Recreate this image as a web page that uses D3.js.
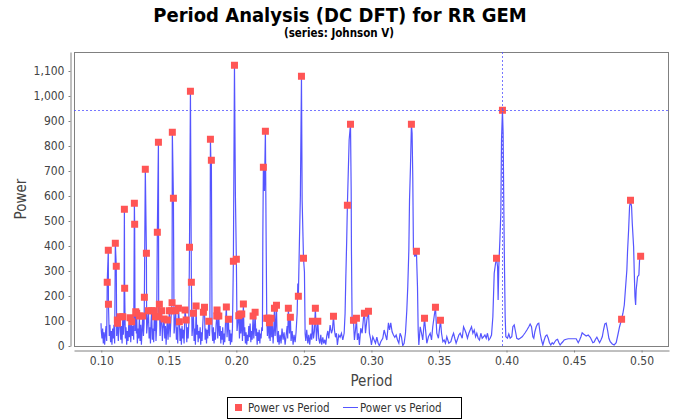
<!DOCTYPE html>
<html>
<head>
<meta charset="utf-8" />
<script src="https://d3js.org/d3.v7.min.js"></script>
<title>Period Analysis</title>
<style>
    body { margin: 0; background: #fff; }
    svg { display: block; }
    .tick text { font-family: "DejaVu Sans Condensed", "DejaVu Sans", sans-serif; font-stretch: condensed; font-size: 12px; fill: #444; }
    .axis path, .axis line { stroke: #808080; }
</style>
</head>
<body>
<script>
    var titleText = "Period Analysis (DC DFT) for RR GEM",
        subtitleText = "(series: Johnson V)",
        seriesName = "Power vs Period";

    var xTicks = [0.10, 0.15, 0.20, 0.25, 0.30, 0.35, 0.40, 0.45, 0.50];
    var yTicks = [0, 100, 200, 300, 400, 500, 600, 700, 800, 900, 1000, 1100];

    // crosshair sits on the selected peak
    var crossPeriod = 0.3970,
        crossPower = 943;

    // [period, power] - the full DFT line
    var spectrum = [
        [0.0998,91],[0.1000,60],[0.1005,30],[0.1010,70],[0.1015,10],[0.1020,55],[0.1025,5],[0.1030,45],[0.1035,80],[0.1040,20],
        [0.1044,255],[0.1052,383],[0.1053,167],
        [0.1059,40],[0.1064,85],[0.1069,15],[0.1074,60],[0.1079,5],[0.1084,70],[0.1089,30],[0.1094,85],[0.1099,10],
        [0.1104,411],[0.1111,319],[0.1114,40],[0.1119,104],[0.1121,91],[0.1126,20],[0.1131,70],[0.1139,117],[0.1144,25],[0.1149,80],[0.1154,10],[0.1159,117],[0.1163,45],[0.1168,90],
        [0.1171,547],[0.1173,231],
        [0.1178,30],[0.1183,75],[0.1188,5],[0.1193,60],[0.1198,20],[0.1203,85],[0.1208,35],[0.1213,113],[0.1218,15],[0.1225,97],[0.1230,40],[0.1235,80],[0.1240,25],
        [0.1245,571],[0.1247,487],
        [0.1250,60],[0.1255,137],[0.1260,50],[0.1262,131],[0.1267,10],[0.1272,70],[0.1277,30],[0.1282,120],[0.1287,20],[0.1292,85],[0.1297,5],[0.1302,65],[0.1307,120],[0.1312,40],[0.1317,90],
        [0.1319,195],[0.1326,707],[0.1334,371],
        [0.1336,50],[0.1341,85],[0.1349,141],[0.1354,30],[0.1359,75],[0.1364,10],[0.1368,90],[0.1373,141],[0.1378,25],[0.1383,70],[0.1388,15],[0.1393,141],[0.1398,60],[0.1401,117],[0.1405,20],[0.1410,80],
        [0.1415,455],[0.1423,815],[0.1425,117],[0.1430,167],
        [0.1435,40],[0.1440,85],[0.1447,141],[0.1452,20],[0.1457,70],[0.1465,108],[0.1470,30],[0.1475,80],[0.1480,5],[0.1484,60],[0.1489,104],[0.1494,25],[0.1499,75],[0.1504,141],[0.1509,35],[0.1514,85],
        [0.1519,141],[0.1524,173],[0.1526,855],[0.1534,591],
        [0.1539,50],[0.1544,85],[0.1551,141],[0.1556,25],[0.1561,75],[0.1566,10],[0.1571,151],[0.1578,97],[0.1583,20],[0.1588,70],[0.1593,5],[0.1598,80],[0.1603,30],[0.1608,65],[0.1613,10],[0.1620,144],[0.1628,104],[0.1633,15],[0.1638,75],[0.1643,30],[0.1648,90],
        [0.1653,395],[0.1660,1019],[0.1667,255],
        [0.1672,40],[0.1677,85],[0.1682,131],[0.1687,20],[0.1692,70],[0.1697,5],[0.1702,160],[0.1707,45],[0.1712,85],[0.1717,15],[0.1722,60],[0.1727,30],[0.1732,75],[0.1736,5],[0.1741,55],[0.1746,20],[0.1751,80],[0.1756,135],[0.1764,155],[0.1769,25],[0.1774,70],[0.1779,10],[0.1783,65],[0.1788,30],[0.1796,99],[0.1801,40],[0.1804,90],
        [0.1808,827],[0.1813,700],[0.1815,743],
        [0.1820,60],[0.1825,20],[0.1830,75],[0.1835,10],[0.1840,55],[0.1845,25],[0.1850,85],[0.1855,120],[0.1857,144],[0.1862,30],[0.1870,120],[0.1875,40],[0.1880,80],[0.1885,10],[0.1889,60],[0.1894,25],[0.1899,75],[0.1904,5],[0.1909,50],[0.1914,15],[0.1919,85],[0.1926,156],[0.1931,35],[0.1936,80],[0.1941,107],[0.1946,20],[0.1951,65],[0.1956,5],[0.1961,50],[0.1966,15],[0.1971,70],
        [0.1978,339],[0.1986,1123],[0.1993,600],[0.2000,347],
        [0.2005,60],[0.2010,90],[0.2018,121],[0.2023,30],[0.2028,127],[0.2033,50],[0.2040,128],[0.2045,20],[0.2052,168],[0.2057,40],[0.2062,75],[0.2067,10],[0.2072,55],[0.2077,5],[0.2082,45],[0.2087,20],[0.2092,80],[0.2097,35],[0.2102,90],[0.2107,15],[0.2112,60],[0.2117,25],[0.2124,120],[0.2129,30],[0.2134,70],[0.2139,135],[0.2144,40],[0.2149,70],[0.2154,5],[0.2159,55],[0.2164,20],[0.2169,65],[0.2174,10],[0.2178,50],[0.2183,30],[0.2188,75],[0.2193,60],
        [0.2196,437],[0.2200,715],[0.2208,620],[0.2215,859],[0.2220,457],[0.2225,111],
        [0.2230,40],[0.2237,111],[0.2242,30],[0.2245,93],[0.2250,20],[0.2257,111],[0.2262,35],[0.2267,80],[0.2272,10],[0.2277,60],[0.2282,151],[0.2287,40],[0.2292,90],[0.2297,163],[0.2301,50],[0.2306,15],[0.2311,60],[0.2316,5],[0.2324,45],[0.2331,10],[0.2338,70],[0.2346,25],[0.2353,55],[0.2361,5],[0.2368,40],[0.2376,80],[0.2380,30],[0.2385,151],[0.2393,50],[0.2400,115],[0.2405,20],[0.2413,60],[0.2420,5],[0.2427,45],[0.2435,15],[0.2442,55],[0.2450,130],[0.2455,250],
        [0.2459,199],[0.2467,420],[0.2474,600],[0.2482,1079],[0.2487,584],[0.2497,351],[0.2504,297],
        [0.2509,50],[0.2514,20],[0.2521,65],[0.2529,10],[0.2536,45],[0.2543,5],[0.2551,50],[0.2558,25],[0.2563,99],[0.2571,30],[0.2578,60],[0.2585,151],[0.2593,20],[0.2598,60],[0.2603,99],[0.2610,30],[0.2618,10],[0.2625,45],[0.2632,5],[0.2640,35],[0.2647,10],[0.2655,25],[0.2662,5],[0.2669,40],[0.2677,60],[0.2684,30],
        [0.2694,84],[0.2704,51],[0.2711,64],[0.2719,119],[0.2726,64],[0.2734,35],[0.2741,51],[0.2748,4],[0.2758,44],[0.2768,35],[0.2778,51],[0.2788,24],[0.2798,51],[0.2805,131],[0.2810,264],[0.2817,424],
        [0.2822,563],[0.2835,824],[0.2845,887],[0.2850,624],[0.2852,384],[0.2857,91],
        [0.2867,103],[0.2874,24],[0.2882,64],[0.2889,111],[0.2896,24],[0.2904,51],[0.2911,4],[0.2921,71],[0.2931,51],[0.2941,111],[0.2948,131],[0.2956,51],[0.2966,104],[0.2978,139],[0.2985,51],[0.2993,31],[0.3000,4],[0.3010,37],[0.3020,24],[0.3030,11],[0.3040,35],[0.3050,11],[0.3059,1],[0.3069,17],[0.3084,31],[0.3094,64],[0.3104,44],[0.3114,24],[0.3126,93],[0.3134,64],[0.3143,93],[0.3153,57],[0.3163,44],[0.3173,35],[0.3183,44],[0.3193,24],[0.3203,11],[0.3212,51],[0.3222,37],[0.3232,1],[0.3242,11],[0.3252,51],
        [0.3262,144],[0.3269,237],[0.3277,384],[0.3282,584],[0.3289,717],[0.3296,887],[0.3301,851],[0.3306,677],[0.3311,384],[0.3321,357],[0.3333,379],[0.3341,237],[0.3346,64],
        [0.3351,4],[0.3361,77],[0.3371,51],[0.3380,24],[0.3393,111],[0.3403,51],[0.3410,11],[0.3422,37],[0.3435,51],[0.3445,24],[0.3454,77],[0.3464,117],[0.3474,155],[0.3484,51],[0.3496,31],[0.3511,103],[0.3519,51],[0.3529,17],[0.3538,24],[0.3548,11],[0.3558,37],[0.3573,11],[0.3588,17],[0.3598,37],[0.3608,51],[0.3617,31],[0.3627,11],[0.3637,27],[0.3647,44],[0.3657,51],[0.3672,31],[0.3682,77],[0.3692,64],[0.3701,51],[0.3711,31],[0.3721,51],[0.3731,64],[0.3741,77],[0.3751,51],[0.3761,64],[0.3771,37],[0.3780,51],[0.3790,31],[0.3800,24],[0.3810,51],[0.3820,31],[0.3830,37],[0.3840,44],[0.3850,31],[0.3859,51],[0.3869,24],[0.3879,31],[0.3889,44],
        [0.3899,117],[0.3909,291],[0.3919,331],[0.3926,351],[0.3934,317],[0.3938,184],[0.3943,317],[0.3951,424],[0.3958,531],[0.3963,824],[0.3970,943],[0.3975,851],[0.3980,557],[0.3985,317],[0.3990,117],[0.3995,37],
        [0.4007,31],[0.4017,48],[0.4027,31],[0.4039,37],[0.4047,77],[0.4057,84],[0.4067,57],[0.4076,31],[0.4089,27],[0.4101,31],[0.4116,37],[0.4126,44],[0.4138,53],[0.4151,64],[0.4165,77],[0.4175,88],[0.4185,77],[0.4195,37],[0.4202,31],[0.4210,57],[0.4220,77],[0.4230,88],[0.4239,91],[0.4249,51],[0.4259,24],[0.4269,4],[0.4279,24],[0.4289,40],[0.4299,44],[0.4309,31],[0.4318,13],[0.4328,4],[0.4338,13],[0.4348,8],[0.4358,17],[0.4368,24],[0.4378,27],[0.4388,13],[0.4397,4],[0.4407,11],[0.4417,17],[0.4427,24],[0.4442,27],[0.4457,29],[0.4476,29],[0.4496,29],[0.4516,29],[0.4531,13],[0.4541,24],[0.4551,37],[0.4560,53],[0.4570,48],[0.4580,44],[0.4590,40],[0.4605,44],[0.4620,35],[0.4630,24],[0.4639,13],[0.4649,16],[0.4659,27],[0.4669,35],[0.4679,24],[0.4689,13],[0.4699,24],[0.4709,37],[0.4718,64],[0.4728,88],[0.4738,91],[0.4748,64],[0.4758,31],[0.4768,17],[0.4783,8],[0.4797,4],[0.4812,13],[0.4827,51],[0.4837,77],
        [0.4852,107],[0.4862,131],[0.4872,164],[0.4881,231],[0.4891,304],[0.4896,377],[0.4904,464],[0.4911,557],[0.4918,583],[0.4926,557],[0.4931,491],[0.4941,397],[0.4946,291],[0.4951,197],[0.4956,164],[0.4960,224],[0.4970,277],[0.4980,284],[0.4985,344],[0.4993,359],[0.5000,357]
    ];

    // [period, power] - top hits shown as squares
    var topHits = [
        [0.1044,255],[0.1052,383],[0.1053,167],
        [0.1104,411],[0.1111,319],[0.1119,104],[0.1121,91],[0.1139,117],[0.1159,117],
        [0.1171,547],[0.1173,231],[0.1213,113],[0.1225,97],
        [0.1245,571],[0.1247,487],[0.1255,137],[0.1262,131],[0.1282,120],[0.1307,120],
        [0.1319,195],[0.1326,707],[0.1334,371],
        [0.1349,141],[0.1373,141],[0.1393,141],[0.1401,117],
        [0.1415,455],[0.1423,815],[0.1425,117],[0.1430,167],[0.1447,141],[0.1465,108],[0.1489,104],[0.1504,141],
        [0.1519,141],[0.1524,173],[0.1526,855],[0.1534,591],
        [0.1551,141],[0.1571,151],[0.1578,97],[0.1620,144],[0.1628,104],
        [0.1653,395],[0.1660,1019],[0.1667,255],
        [0.1682,131],[0.1702,160],[0.1756,135],[0.1764,155],[0.1796,99],
        [0.1808,827],[0.1815,743],
        [0.1855,120],[0.1857,144],[0.1870,120],[0.1926,156],[0.1941,107],
        [0.1978,339],[0.1986,1123],[0.2000,347],
        [0.2018,121],[0.2028,127],[0.2040,128],[0.2052,168],[0.2124,120],[0.2139,135],
        [0.2200,715],[0.2215,859],[0.2225,111],
        [0.2237,111],[0.2245,93],[0.2257,111],[0.2282,151],[0.2297,163],[0.2385,151],[0.2400,115],
        [0.2459,199],[0.2482,1079],[0.2497,351],
        [0.2563,99],[0.2585,151],[0.2603,99],[0.2719,119],
        [0.2822,563],[0.2845,887],[0.2867,103],[0.2889,111],[0.2948,131],[0.2978,139],
        [0.3296,887],[0.3333,379],[0.3393,111],[0.3474,155],[0.3511,103],
        [0.3926,351],[0.3970,943],
        [0.4852,107],[0.4918,583],[0.4993,359]
    ];

    var svgWidth = 680, svgHeight = 420;
    var plot = {left: 74, right: 669, top: 52, bottom: 346};

    var svg = d3.select("body").append("svg")
        .attr("width", svgWidth)
        .attr("height", svgHeight);

    svg.append("rect").attr("width", svgWidth).attr("height", svgHeight).attr("fill", "#fff");

    var x = d3.scaleLinear().domain([0.0798, 0.5203]).range([plot.left, plot.right]);
    var y = d3.scaleLinear().domain([0, 1176]).range([plot.bottom, plot.top]);

    // titles
    svg.append("text")
        .attr("x", 340).attr("y", 21.5)
        .attr("text-anchor", "middle")
        .style("font-family", "'DejaVu Sans Condensed', 'DejaVu Sans', sans-serif")
        .style("font-stretch", "condensed")
        .style("font-weight", "bold")
        .style("font-size", "20px")
        .text(titleText);
    svg.append("text")
        .attr("x", 339).attr("y", 36.5)
        .attr("text-anchor", "middle")
        .style("font-family", "'DejaVu Sans Condensed', 'DejaVu Sans', sans-serif")
        .style("font-stretch", "condensed")
        .style("font-weight", "bold")
        .style("font-size", "11.5px")
        .text(subtitleText);

    // plot frame
    svg.append("rect")
        .attr("x", plot.left + 0.5).attr("y", plot.top + 0.5)
        .attr("width", plot.right - plot.left - 1).attr("height", plot.bottom - plot.top)
        .attr("fill", "#fff")
        .attr("stroke", "#808080");

    // axes, offset a few pixels from the plot like the original
    var yAxis = d3.axisLeft(y).tickValues(yTicks).tickFormat(d3.format(",")).tickSize(2).tickSizeOuter(0).tickPadding(4);
    svg.append("g").attr("class", "axis")
        .attr("transform", "translate(70.5,0)")
        .call(yAxis);

    var xAxis = d3.axisBottom(x).tickValues(xTicks).tickFormat(d3.format(".2f")).tickSize(2).tickSizeOuter(0).tickPadding(4);
    svg.append("g").attr("class", "axis")
        .attr("transform", "translate(0,350.5)")
        .call(xAxis);

    svg.append("text")
        .attr("transform", "translate(26," + ((plot.top + plot.bottom) / 2) + ") rotate(-90)")
        .attr("text-anchor", "middle")
        .style("font-family", "'DejaVu Sans Condensed', 'DejaVu Sans', sans-serif")
        .style("font-stretch", "condensed")
        .style("font-size", "15px")
        .style("fill", "#444")
        .text("Power");
    svg.append("text")
        .attr("x", (plot.left + plot.right) / 2).attr("y", 386)
        .attr("text-anchor", "middle")
        .style("font-family", "'DejaVu Sans Condensed', 'DejaVu Sans', sans-serif")
        .style("font-stretch", "condensed")
        .style("font-size", "15px")
        .style("fill", "#444")
        .text("Period");

    svg.append("clipPath").attr("id", "plotClip")
        .append("rect")
        .attr("x", plot.left).attr("y", plot.top)
        .attr("width", plot.right - plot.left).attr("height", plot.bottom - plot.top);

    var g = svg.append("g").attr("clip-path", "url(#plotClip)");

    var line = d3.line()
        .x(function(d) { return x(d[0]); })
        .y(function(d) { return y(d[1]); });

    g.append("path")
        .datum(spectrum)
        .attr("fill", "none")
        .attr("stroke", "#5555ff")
        .attr("stroke-width", 1.2)
        .attr("d", line);

    g.selectAll(".hit")
        .data(topHits)
        .enter().append("rect")
        .attr("class", "hit")
        .attr("x", function(d) { return x(d[0]) - 3.5; })
        .attr("y", function(d) { return y(d[1]) - 3.5; })
        .attr("width", 7)
        .attr("height", 7)
        .attr("fill", "#ff5555");

    // crosshair
    g.append("line")
        .attr("x1", Math.round(x(crossPeriod)) + 0.5).attr("x2", Math.round(x(crossPeriod)) + 0.5)
        .attr("y1", plot.top).attr("y2", plot.bottom)
        .attr("stroke", "#5555ff").attr("stroke-opacity", 0.8)
        .attr("stroke-dasharray", "2,2");
    g.append("line")
        .attr("x1", plot.left).attr("x2", plot.right)
        .attr("y1", Math.round(y(crossPower)) + 0.5).attr("y2", Math.round(y(crossPower)) + 0.5)
        .attr("stroke", "#5555ff").attr("stroke-opacity", 0.8)
        .attr("stroke-dasharray", "2,2");

    // legend
    var legend = svg.append("g");
    legend.append("rect")
        .attr("x", 227.5).attr("y", 397.5)
        .attr("width", 234).attr("height", 21)
        .attr("fill", "#fff").attr("stroke", "#000");
    legend.append("rect")
        .attr("x", 235).attr("y", 404)
        .attr("width", 7).attr("height", 7)
        .attr("fill", "#ff5555");
    legend.append("text")
        .attr("x", 248).attr("y", 412)
        .style("font-family", "'DejaVu Sans Condensed', 'DejaVu Sans', sans-serif")
        .style("font-stretch", "condensed")
        .style("font-size", "11.5px")
        .style("fill", "#333")
        .text(seriesName);
    legend.append("line")
        .attr("x1", 343).attr("x2", 358)
        .attr("y1", 407.5).attr("y2", 407.5)
        .attr("stroke", "#5555ff");
    legend.append("text")
        .attr("x", 360).attr("y", 412)
        .style("font-family", "'DejaVu Sans Condensed', 'DejaVu Sans', sans-serif")
        .style("font-stretch", "condensed")
        .style("font-size", "11.5px")
        .style("fill", "#333")
        .text(seriesName);
</script>
</body>
</html>
